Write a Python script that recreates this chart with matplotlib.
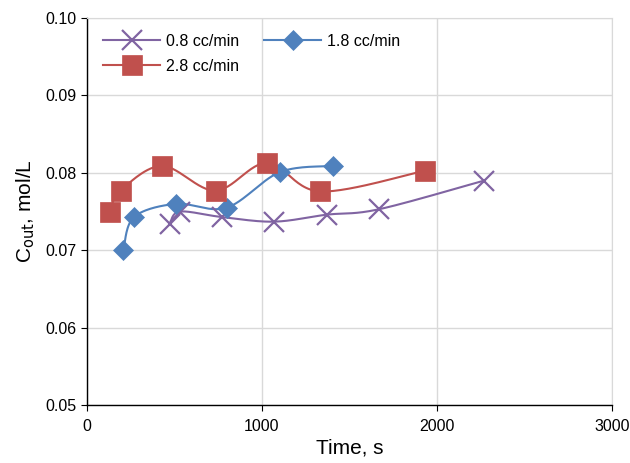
import matplotlib.pyplot as plt
import numpy as np

plt.rcParams['font.family'] = ['Liberation Sans', 'DejaVu Sans']

# values
t_08 = [474, 531, 770, 1069, 1370, 1669, 2270]
c_08 = [0.0734, 0.0750, 0.0743, 0.0737, 0.0746, 0.0753, 0.0790]

t_18 = [208, 269, 509, 798, 1103, 1408]
c_18 = [0.0700, 0.0743, 0.0760, 0.0755, 0.0801, 0.0809]

t_28 = [131, 192, 430, 735, 1030, 1335, 1935]
c_28 = [0.0750, 0.0777, 0.0809, 0.0777, 0.0813, 0.0776, 0.0803]

labels = ['0.8 cc/min', '1.8 cc/min', '2.8 cc/min']


def smooth(x, y, n=30):
    # excel-style smoothed line (catmull-rom through the points)
    p = np.column_stack([x, y]).astype(float)
    p = np.vstack([p[0], p, p[-1]])
    out = []
    for i in range(1, len(p) - 2):
        p0, p1, p2, p3 = p[i - 1], p[i], p[i + 1], p[i + 2]
        s = np.linspace(0, 1, n)[:, None]
        seg = 0.5 * ((2 * p1) + (-p0 + p2) * s
                     + (2 * p0 - 5 * p1 + 4 * p2 - p3) * s ** 2
                     + (-p0 + 3 * p1 - 3 * p2 + p3) * s ** 3)
        out.append(seg)
    out = np.vstack(out)
    return out[:, 0], out[:, 1]


fig = plt.figure(figsize=(6.3, 4.63), dpi=100)
ax = fig.add_axes([0.138, 0.125, 0.833, 0.836])

series = [
    (t_08, c_08, '#8064A2', 'x', 14, 1.6),
    (t_18, c_18, '#4F81BD', 'D', 10, 0),
    (t_28, c_28, '#C0504D', 's', 14, 0),
]
handles = []
for (t, c, col, mk, ms, mew), lab in zip(series, labels):
    sx, sy = smooth(t, c)
    ax.plot(sx, sy, color=col, lw=1.5, zorder=3)
    ax.plot(t, c, ls='none', marker=mk, ms=ms, color=col, mec=col,
            mew=mew if mew else 0.5, zorder=4)
    h, = ax.plot([], [], color=col, lw=1.5, marker=mk, ms=ms, mec=col,
                 mew=mew if mew else 0.5, label=lab)
    handles.append(h)

ax.set_xlim(0, 3000)
ax.set_ylim(0.05, 0.10)
ax.set_xticks([0, 1000, 2000, 3000])
ax.set_yticks(np.arange(0.05, 0.1001, 0.01))
ax.set_yticklabels([f'{v:.2f}' for v in np.arange(0.05, 0.1001, 0.01)])
ax.grid(True, color='#D9D9D9', lw=1)
ax.set_axisbelow(True)
for s in ['top', 'right']:
    ax.spines[s].set_color('#D9D9D9')
for s in ['left', 'bottom']:
    ax.spines[s].set_color('#000000')
    ax.spines[s].set_linewidth(1)
ax.tick_params(labelsize=11.5, length=4, width=0.8, colors='#000000')
ax.tick_params(axis='x', pad=6)

ax.set_xlabel('Time, s', fontsize=15, labelpad=3)
ax.set_ylabel(r'C$_{\mathrm{out}}$, mol/L', fontsize=15, labelpad=6)

ax.legend(handles=[handles[0], handles[2], handles[1]],
          labels=[labels[0], labels[2], labels[1]],
          ncol=2, loc='upper left', frameon=False, fontsize=11.5,
          handlelength=3.6, handletextpad=0.35, columnspacing=1.55,
          labelspacing=0.62, borderaxespad=0.6, bbox_to_anchor=(0.0, 1.0))

fig.savefig('out.png', dpi=100)
